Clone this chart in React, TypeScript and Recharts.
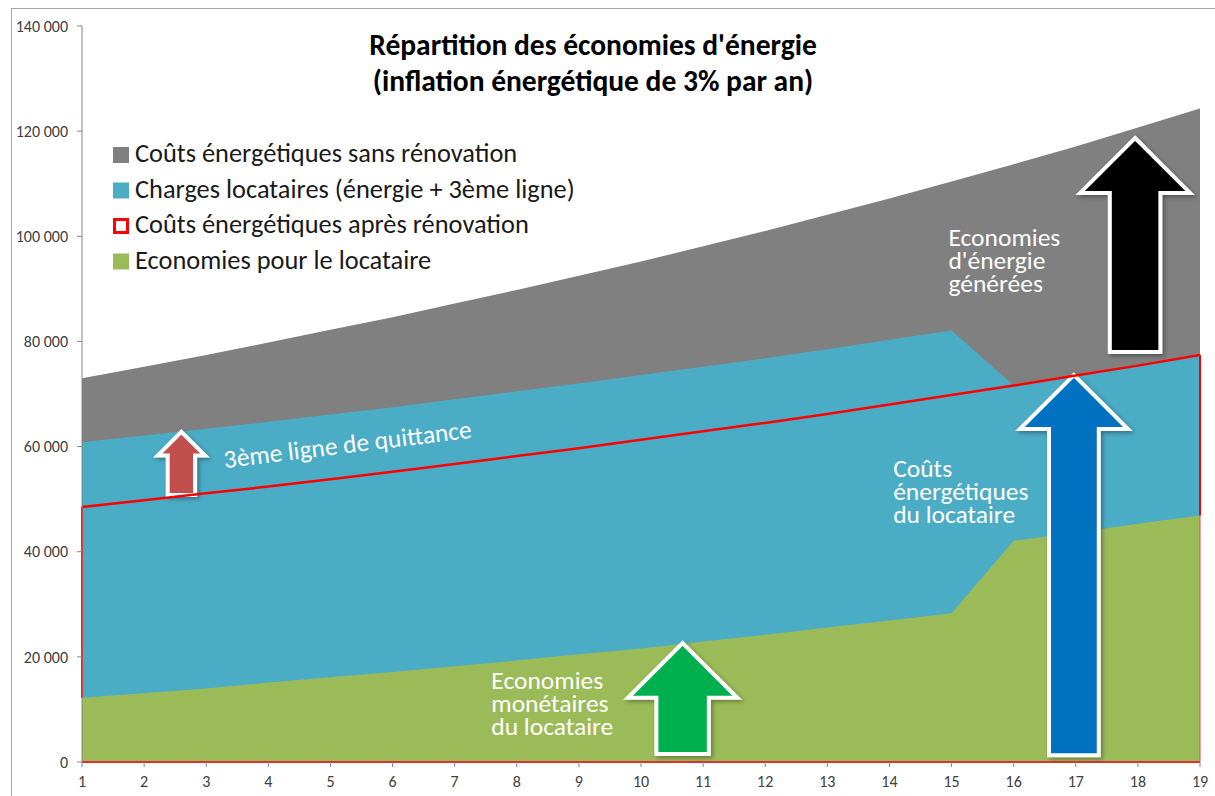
import {
  ComposedChart,
  Area,
  Line,
  XAxis,
  YAxis,
  ReferenceArea,
  ReferenceDot,
  ReferenceLine,
} from "recharts";

const years = [1, 2, 3, 4, 5, 6, 7, 8, 9, 10, 11, 12, 13, 14, 15, 16, 17, 18, 19];
const coutsSansRenovation = [73000, 75200, 77400, 79800, 82200, 84600, 87200, 89800, 92500, 95200, 98100, 101000, 104100, 107200, 110400, 113700, 117100, 120700, 124300];
const chargesLocataires = [60800, 62100, 63400, 64700, 66100, 67500, 69000, 70500, 72000, 73600, 75200, 76800, 78500, 80300, 82100, 71600, 73500, 75400, 77400];
const coutsApresRenovation = [48500, 49800, 51100, 52400, 53800, 55200, 56700, 58200, 59700, 61300, 62900, 64500, 66200, 68000, 69800, 71600, 73500, 75400, 77400];
const economiesLocataire = [12200, 13100, 14000, 15100, 16100, 17100, 18200, 19300, 20500, 21600, 22900, 24200, 25600, 26900, 28300, 42100, 43600, 45300, 46900];
const yTicks = [0, 20000, 40000, 60000, 80000, 100000, 120000, 140000];

const data = years.map((year, i) => ({
  year,
  sans: coutsSansRenovation[i],
  charges: chargesLocataires[i],
  apres: coutsApresRenovation[i],
  economies: economiesLocataire[i],
}));

const FONT = "Carlito, 'Open Sans', Lato, sans-serif";
const GREY = "#808080";
const BLUE = "#4BACC6";
const RED = "#FF0000";
const GREEN = "#9BBB59";

const legendItems = [
  { label: "Coûts énergétiques sans rénovation", color: GREY, hollow: false },
  { label: "Charges locataires (énergie + 3ème ligne)", color: BLUE, hollow: false },
  { label: "Coûts énergétiques après rénovation", color: RED, hollow: true },
  { label: "Economies pour le locataire", color: GREEN, hollow: false },
];

// block arrows, bounds in data units
const arrows = [
  { x1: 2.22, x2: 2.98, y1: 50800, y2: 62800, fill: "#C0504D", shaft: 0.58 },
  { x1: 9.79, x2: 11.55, y1: 1500, y2: 22600, fill: "#00B050", shaft: 0.48 },
  { x1: 16.1, x2: 17.84, y1: 1300, y2: 73600, fill: "#0070C0", shaft: 0.46 },
  { x1: 17.07, x2: 18.84, y1: 78000, y2: 118700, fill: "#000000", shaft: 0.46 },
];

const notes = [
  { x: 3.3, y: 55900, lines: ["3ème ligne de quittance"], angle: -7 },
  { x: 7.59, y: 13900, lines: ["Economies", "monétaires", "du locataire"], angle: 0 },
  { x: 14.06, y: 54200, lines: ["Coûts", "énergétiques", "du locataire"], angle: 0 },
  { x: 14.95, y: 98200, lines: ["Economies", "d'énergie", "générées"], angle: 0 },
];

const fmt = (v: number) => String(v).replace(/\B(?=(\d{3})+(?!\d))/g, " ");

function arrowShape(fill: string, shaft: number) {
  return (props: any) => {
    const { x, y, width, height } = props;
    const cx = x + width / 2;
    const head = width * 0.5;
    const sw = (width * shaft) / 2;
    const d = `M${cx},${y} L${x + width},${y + head} L${cx + sw},${y + head} L${cx + sw},${y + height} L${cx - sw},${y + height} L${cx - sw},${y + head} L${x},${y + head} Z`;
    return (
      <g>
        <defs>
          <filter id="arrowShadow" x="-20%" y="-20%" width="140%" height="140%">
            <feDropShadow dx="2" dy="2" stdDeviation="2" floodColor="#000" floodOpacity="0.35" />
          </filter>
        </defs>
        <path d={d} fill={fill} stroke="#fff" strokeWidth={4} strokeLinejoin="miter" filter="url(#arrowShadow)" />
      </g>
    );
  };
}

function noteShape(lines: string[], angle: number) {
  return (props: any) => {
    const { cx, cy } = props;
    return (
      <text
        x={cx}
        y={cy}
        fill="#fff"
        fontFamily={FONT}
        fontSize={25.5}
        transform={angle ? `rotate(${angle} ${cx} ${cy})` : undefined}
      >
        {lines.map((l, i) => (
          <tspan key={i} x={cx} dy={i === 0 ? 0 : 23}>
            {l}
          </tspan>
        ))}
      </text>
    );
  };
}

function Overlay() {
  return (
    <svg
      width={1215}
      height={796}
      style={{ position: "absolute", left: 0, top: 0, pointerEvents: "none" }}
      fontFamily={FONT}
    >
      <text x={593} y={55} textAnchor="middle" fontSize={29.5} fontWeight={700} fill="#000">
        Répartition des économies d'énergie
      </text>
      <text x={593} y={91} textAnchor="middle" fontSize={29.5} fontWeight={700} fill="#000">
        (inflation énergétique de 3% par an)
      </text>
      {legendItems.map((item, i) => {
        const base = 162 + i * 35.5;
        return (
          <g key={item.label}>
            {item.hollow ? (
              <rect x={114.5} y={base - 13.5} width={13} height={13} fill="#fff" stroke={item.color} strokeWidth={3} />
            ) : (
              <rect x={113} y={base - 15} width={16} height={16} fill={item.color} />
            )}
            <text x={135} y={base} fontSize={26.4} fill="#1a1a1a">
              {item.label}
            </text>
          </g>
        );
      })}
    </svg>
  );
}

export default function App() {
  return (
    <div style={{ position: "absolute", left: 0, top: 0, width: 1215, height: 796, background: "#fff", overflow: "hidden" }}>
      <div style={{ position: "absolute", left: 11, top: 8, width: 1230, height: 820, border: "1px solid #a6a6a6" }} />
      <ComposedChart width={1215} height={796} data={data} margin={{ top: 26, right: 15, bottom: 0, left: 0 }}>
        <XAxis
          dataKey="year"
          type="number"
          domain={[1, 19]}
          ticks={years}
          height={34}
          axisLine={{ stroke: "#e03030", strokeWidth: 2 }}
          tickLine={{ stroke: "#868686" }}
          tickSize={5}
          tickMargin={9}
          tick={{ fill: "#404040", fontSize: 16, fontFamily: FONT }}
        />
        <YAxis
          type="number"
          domain={[0, 140000]}
          ticks={yTicks}
          width={82}
          tickFormatter={fmt}
          axisLine={{ stroke: "#868686" }}
          tickLine={{ stroke: "#868686" }}
          tickSize={5}
          tickMargin={9}
          tick={{ fill: "#404040", fontSize: 16, fontFamily: FONT }}
        />
        <Area type="linear" dataKey="sans" stroke="none" fill={GREY} fillOpacity={1} isAnimationActive={false} />
        <Area type="linear" dataKey="charges" stroke="none" fill={BLUE} fillOpacity={1} isAnimationActive={false} />
        <Line type="linear" dataKey="apres" stroke={RED} strokeWidth={2.5} dot={false} isAnimationActive={false} />
        <ReferenceLine
          segment={[
            { x: years[0], y: economiesLocataire[0] },
            { x: years[0], y: coutsApresRenovation[0] },
          ]}
          stroke={RED}
          strokeWidth={2}
        />
        <ReferenceLine
          segment={[
            { x: years[years.length - 1], y: economiesLocataire[years.length - 1] },
            { x: years[years.length - 1], y: coutsApresRenovation[years.length - 1] },
          ]}
          stroke={RED}
          strokeWidth={2}
        />
        <Area type="linear" dataKey="economies" stroke="none" fill={GREEN} fillOpacity={1} isAnimationActive={false} />
        <ReferenceLine
          segment={[
            { x: years[years.length - 1], y: 0 },
            { x: years[years.length - 1], y: economiesLocataire[years.length - 1] },
          ]}
          stroke="#e05050"
          strokeWidth={1}
        />
        {arrows.map((a, i) => (
          <ReferenceArea key={"a" + i} x1={a.x1} x2={a.x2} y1={a.y1} y2={a.y2} shape={arrowShape(a.fill, a.shaft)} />
        ))}
        {notes.map((n, i) => (
          <ReferenceDot key={"n" + i} x={n.x} y={n.y} r={0} shape={noteShape(n.lines, n.angle)} />
        ))}
      </ComposedChart>
      <Overlay />
    </div>
  );
}
